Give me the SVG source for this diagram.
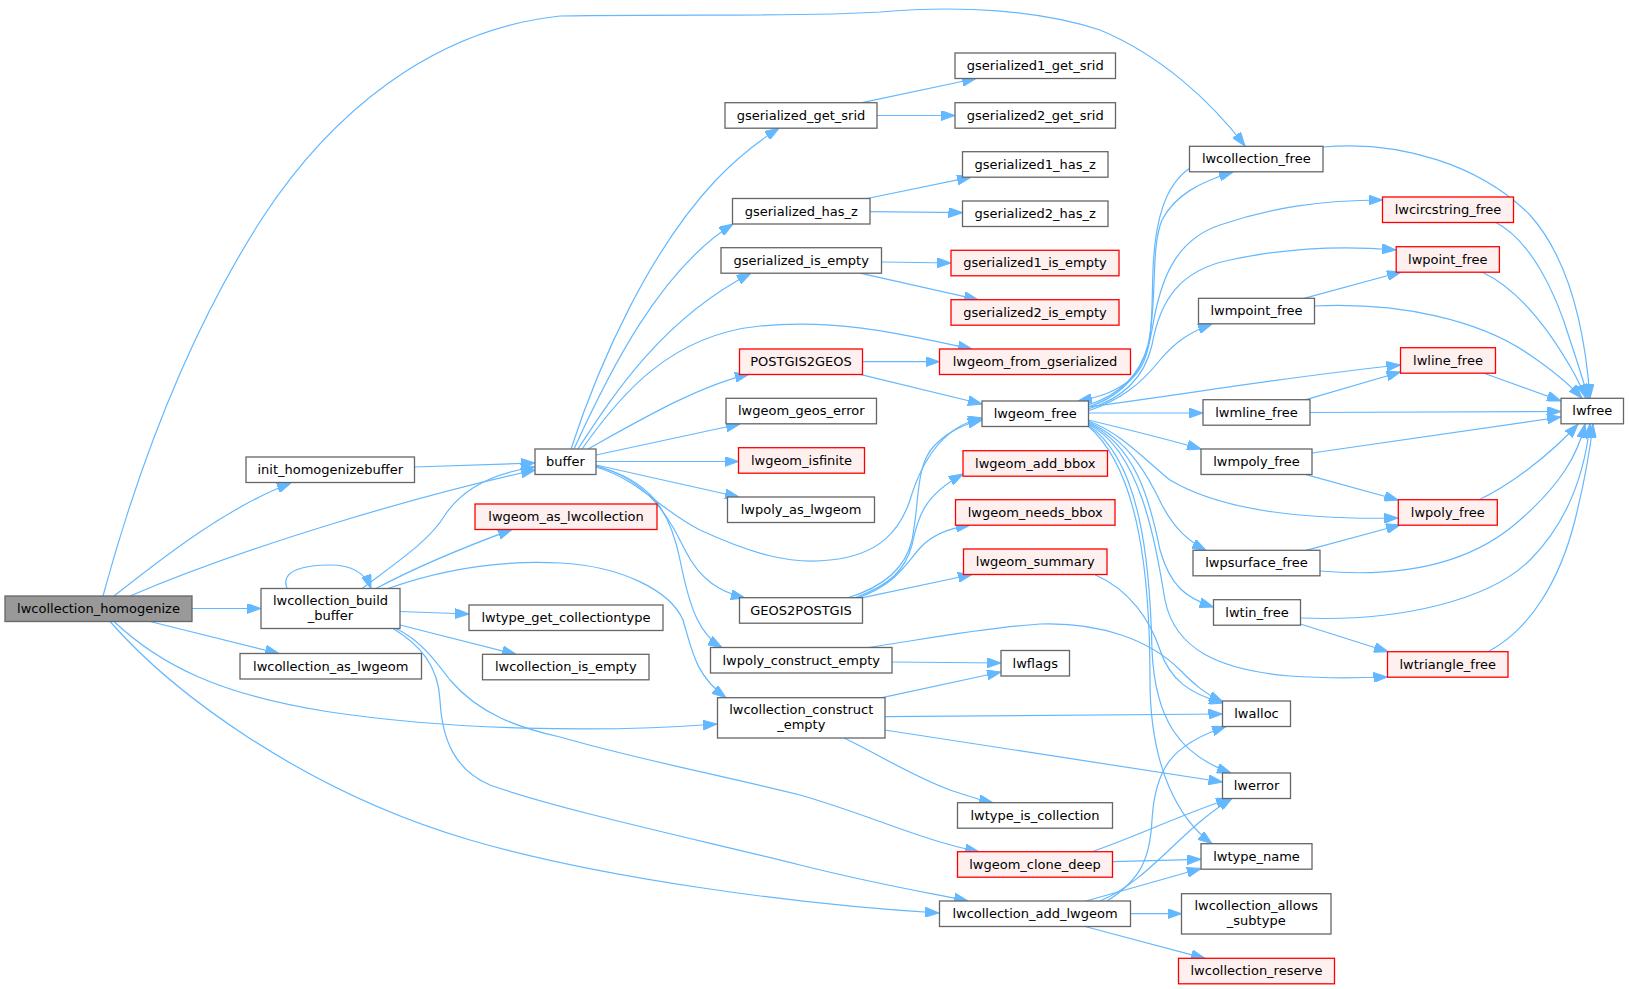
<svg xmlns="http://www.w3.org/2000/svg" width="1629" height="989" viewBox="0 0 1629 989">
<defs>
<marker id="a" viewBox="0 0 14 10" markerWidth="14" markerHeight="10" refX="14" refY="5" orient="auto" markerUnits="userSpaceOnUse"><path d="M0,0 L14,5 L0,10 Z" fill="#63b8ff" stroke="#63b8ff" stroke-width="1"/></marker>
<style>
.e path{fill:none;stroke:#63b8ff;stroke-width:1.2;marker-end:url(#a)}
rect{stroke-width:1.3}
.n rect{fill:#ffffff;stroke:#666666}
.r rect{fill:#fff0f0;stroke:#ff0000}
.g rect{fill:#999999;stroke:#666666}
text{font-family:"DejaVu Sans",sans-serif;font-size:13px;text-anchor:middle;fill:#000}
</style>
</defs>
<rect width="1629" height="989" fill="#fff"/>
<g class="e" id="edges">
<path d="M103,596 C140,460 190,330 263,217 C330,115 430,30 560,16 C700,14 800,17 880,12 C960,5 1040,10 1100,30 C1160,55 1210,100 1245,146"/>
<path d="M114,596 C160,560 225,508 291,483"/>
<path d="M130,596 C250,545 420,495 535,470"/>
<path d="M414.5,467 L535,463"/>
<path d="M192,608.5 L261,608.5"/>
<path d="M150,621.5 L279,653.5"/>
<path d="M114,621.5 C160,665 220,695 330,712 C450,730 600,733 717,724"/>
<path d="M110,621.5 C170,690 300,790 470,840 C600,878 800,905 939,913"/>
<path d="M287,588.5 C280,570 305,565 330,565 C350,565 365,572 371,588.5"/>
<path d="M362,588.5 C400,560 430,540 445,515 C465,485 500,472 535,467"/>
<path d="M376,588.5 C420,565 470,545 512,529.5"/>
<path d="M388,588.5 C440,570 500,560 560,563 C620,566 670,590 683,620 C692,650 695,675 726,697.7"/>
<path d="M400,611.5 L469,614"/>
<path d="M400,625 L516,654.3"/>
<path d="M396,628.5 C420,640 435,660 450,680 C480,715 520,728 560,737 C640,760 720,775 800,795 C870,815 920,840 979,851.7"/>
<path d="M393,628.5 C420,645 438,665 440,700 C442,740 455,770 490,785 C560,810 700,840 800,865 C880,885 930,893 968,901"/>
<path d="M571,449 C600,360 650,250 716,180 C740,155 760,140 779,128.2"/>
<path d="M574,449 C610,370 660,270 733,224"/>
<path d="M578,449 C610,400 660,320 751,273.2"/>
<path d="M582,449 C620,395 670,335 760,326 C840,318 910,336 972,349"/>
<path d="M588,449 C640,420 700,385 749,374.3"/>
<path d="M596,455 L740,424"/>
<path d="M596,461.5 L738.5,461.5"/>
<path d="M596,465 L739,497"/>
<path d="M596,467 C640,480 660,510 700,530 C750,553 790,565 830,560 C880,555 900,530 910,500 C925,450 950,425 982,418"/>
<path d="M596,466 C650,480 670,520 685,550 C700,580 720,592 745,598"/>
<path d="M596,466 C650,480 670,510 680,560 C690,610 700,635 722,647.5"/>
<path d="M862,102.7 L976,78.5"/>
<path d="M877,115.5 L955,115.5"/>
<path d="M867,198.5 L971,177.2"/>
<path d="M870,211.7 L962.5,212.7"/>
<path d="M881.5,262 L951,263"/>
<path d="M860,273.2 L978,299.7"/>
<path d="M862.5,361.7 L939.5,361.7"/>
<path d="M860,374.3 L982,404"/>
<path d="M848,597.7 C880,588 905,570 912,540 C920,500 915,465 935,445 C950,430 965,424 982,420"/>
<path d="M855,597.7 C890,585 905,570 912,545 C918,515 925,495 963,474"/>
<path d="M858,597.7 C895,585 905,565 920,548 C932,535 950,528 970,525.2"/>
<path d="M863,597.7 L972,574.5"/>
<path d="M1088,405 C1120,395 1140,375 1148,345 C1158,300 1150,250 1162,220 C1175,195 1200,182 1233,172"/>
<path d="M1190,168 C1165,185 1155,220 1153,270 C1151,320 1155,360 1130,380 C1115,392 1100,397 1078,401"/>
<path d="M1088,407 C1125,395 1145,370 1152,330 C1160,280 1175,240 1220,225 C1270,208 1320,200 1382.5,200"/>
<path d="M1088,409 C1125,398 1145,375 1152,345 C1160,300 1180,270 1230,260 C1290,247 1350,246 1396,250"/>
<path d="M1088,411 C1120,400 1140,385 1160,360 C1175,342 1190,332 1212,324"/>
<path d="M1088,407 C1200,392 1300,375 1400.5,365"/>
<path d="M1088,413 L1203,413"/>
<path d="M1088,420 C1130,430 1170,440 1201,449"/>
<path d="M1088,421 C1120,432 1145,460 1170,480 C1220,510 1300,520 1398,518"/>
<path d="M1088,422 C1130,440 1150,480 1162,505 C1175,530 1190,542 1206,550.3"/>
<path d="M1088,423 C1135,445 1150,500 1160,550 C1170,585 1185,598 1213.5,607"/>
<path d="M1088,424 C1140,450 1155,540 1165,600 C1175,650 1220,670 1290,676 C1330,679 1360,678 1387.5,677"/>
<path d="M1088,425 C1140,460 1150,560 1152,650 C1155,720 1180,755 1231,773"/>
<path d="M1088,426 C1140,470 1150,580 1150,680 C1150,770 1180,820 1212,843.7"/>
<path d="M1323,147 C1400,140 1480,165 1530,215 C1570,260 1585,330 1590,398.3"/>
<path d="M1495,222 C1530,240 1555,290 1570,340 C1580,370 1585,385 1588,398.3"/>
<path d="M1482,272 C1520,290 1550,330 1575,375 C1580,385 1584,392 1586,398.3"/>
<path d="M1314.5,306 C1400,302 1480,320 1530,355 C1555,372 1570,385 1582,398.3"/>
<path d="M1484,373.2 L1561,401"/>
<path d="M1310,412.5 L1561,411.5"/>
<path d="M1312,453 L1561,417"/>
<path d="M1479,499.7 C1510,485 1550,455 1578,424"/>
<path d="M1320,571 C1400,578 1470,565 1520,520 C1560,485 1578,455 1585,424"/>
<path d="M1300.5,618 C1400,622 1490,600 1530,560 C1570,520 1585,470 1590,424"/>
<path d="M1488,651.7 C1530,630 1560,580 1575,520 C1585,480 1590,450 1593,424"/>
<path d="M1304,298.3 L1401,272"/>
<path d="M1306,399.7 L1400.5,372"/>
<path d="M1306,474.7 L1398.3,500"/>
<path d="M1306,550.3 L1400,525"/>
<path d="M1300.5,624 L1388,651.7"/>
<path d="M892,662 L1001,663"/>
<path d="M868,647.5 C920,640 980,628 1040,624 C1100,622 1150,640 1180,670 C1195,685 1205,694 1223,702"/>
<path d="M1095,574.7 C1130,590 1150,620 1160,650 C1170,680 1190,694 1223,703"/>
<path d="M882,697.7 L1001,672"/>
<path d="M884.8,716.7 L1222.5,714"/>
<path d="M884.8,730 L1222.5,782"/>
<path d="M844,738 C880,755 910,775 950,790 C965,795 980,800 993,802.7"/>
<path d="M1092,851.7 C1140,835 1180,815 1230,798.5"/>
<path d="M1112.5,861.7 L1201,859.3"/>
<path d="M1107,901 C1140,880 1150,860 1152,820 C1155,770 1170,745 1226,726.5"/>
<path d="M1100,901 C1150,880 1180,830 1232,798.5"/>
<path d="M1086,901 L1201,868.5"/>
<path d="M1130.5,913.7 L1181.5,913.7"/>
<path d="M1085,926.5 L1205,958.3"/>
</g>
<g id="n_root" class="g"><rect x="5" y="596" width="187" height="25.5"/><text x="98.5" y="613">lwcollection_homogenize</text></g>
<g id="n_init" class="n"><rect x="246" y="457" width="168.5" height="25.5"/><text x="330.25" y="474">init_homogenizebuffer</text></g>
<g id="n_buffer" class="n"><rect x="535" y="449" width="61" height="25.5"/><text x="565.5" y="466">buffer</text></g>
<g id="n_build" class="n"><rect x="261" y="588.5" width="139" height="40"/><text x="330.5" y="605">lwcollection_build</text><text x="330.5" y="619.5">_buffer</text></g>
<g id="n_aslwcoll" class="r"><rect x="475" y="504" width="182" height="25.5"/><text x="566" y="521">lwgeom_as_lwcollection</text></g>
<g id="n_getcolltype" class="n"><rect x="469" y="605" width="194" height="25.5"/><text x="566" y="622">lwtype_get_collectiontype</text></g>
<g id="n_aslwgeom" class="n"><rect x="240" y="653.5" width="181.5" height="25.5"/><text x="330.75" y="670.5">lwcollection_as_lwgeom</text></g>
<g id="n_isempty" class="n"><rect x="482.5" y="654.3" width="166.5" height="25.5"/><text x="565.75" y="671.3">lwcollection_is_empty</text></g>
<g id="n_getsrid" class="n"><rect x="725" y="102.7" width="152" height="25.5"/><text x="801" y="119.7">gserialized_get_srid</text></g>
<g id="n_g1srid" class="n"><rect x="955" y="53" width="160.5" height="25.5"/><text x="1035.25" y="70">gserialized1_get_srid</text></g>
<g id="n_g2srid" class="n"><rect x="955" y="102.7" width="160.5" height="25.5"/><text x="1035.25" y="119.7">gserialized2_get_srid</text></g>
<g id="n_hasz" class="n"><rect x="732.5" y="198.5" width="137.5" height="25.5"/><text x="801.25" y="215.5">gserialized_has_z</text></g>
<g id="n_g1hasz" class="n"><rect x="962.5" y="151.7" width="145.5" height="25.5"/><text x="1035.25" y="168.7">gserialized1_has_z</text></g>
<g id="n_g2hasz" class="n"><rect x="962.5" y="201" width="145.5" height="25.5"/><text x="1035.25" y="218">gserialized2_has_z</text></g>
<g id="n_gisempty" class="n"><rect x="721" y="247.7" width="160.5" height="25.5"/><text x="801.25" y="264.7">gserialized_is_empty</text></g>
<g id="n_g1isempty" class="r"><rect x="951" y="250.3" width="168" height="25.5"/><text x="1035" y="267.3">gserialized1_is_empty</text></g>
<g id="n_g2isempty" class="r"><rect x="951" y="299.7" width="168" height="25.5"/><text x="1035" y="316.7">gserialized2_is_empty</text></g>
<g id="n_collfree" class="n"><rect x="1189.5" y="146.3" width="133.5" height="25.5"/><text x="1256.25" y="163.3">lwcollection_free</text></g>
<g id="n_circfree" class="r"><rect x="1382.5" y="197" width="131" height="25.5"/><text x="1448" y="214">lwcircstring_free</text></g>
<g id="n_pointfree" class="r"><rect x="1396.2" y="246.7" width="103.2" height="25.5"/><text x="1447.8" y="263.7">lwpoint_free</text></g>
<g id="n_mpointfree" class="n"><rect x="1198.5" y="298.3" width="116" height="25.5"/><text x="1256.5" y="315.3">lwmpoint_free</text></g>
<g id="n_p2g" class="r"><rect x="739.5" y="349" width="123" height="25.5"/><text x="801" y="366">POSTGIS2GEOS</text></g>
<g id="n_fromgser" class="r"><rect x="939.5" y="349" width="191" height="25.5"/><text x="1035" y="366">lwgeom_from_gserialized</text></g>
<g id="n_geoserr" class="n"><rect x="726" y="398.3" width="150.5" height="25.5"/><text x="801.25" y="415.3">lwgeom_geos_error</text></g>
<g id="n_geomfree" class="n"><rect x="982" y="401" width="106.5" height="25.5"/><text x="1035.25" y="418">lwgeom_free</text></g>
<g id="n_isfinite" class="r"><rect x="738.5" y="447.7" width="126" height="25.5"/><text x="801.5" y="464.7">lwgeom_isfinite</text></g>
<g id="n_polyaslwgeom" class="n"><rect x="727.5" y="497" width="147" height="25.5"/><text x="801" y="514">lwpoly_as_lwgeom</text></g>
<g id="n_addbbox" class="r"><rect x="963" y="450.7" width="144.5" height="25.5"/><text x="1035.25" y="467.7">lwgeom_add_bbox</text></g>
<g id="n_needsbbox" class="r"><rect x="955.5" y="499.7" width="159.5" height="25.5"/><text x="1035.25" y="516.7">lwgeom_needs_bbox</text></g>
<g id="n_summary" class="r"><rect x="963.5" y="549" width="143.5" height="25.5"/><text x="1035.25" y="566">lwgeom_summary</text></g>
<g id="n_g2p" class="n"><rect x="739.5" y="597.7" width="123" height="25.5"/><text x="801" y="614.7">GEOS2POSTGIS</text></g>
<g id="n_polyconst" class="n"><rect x="710.5" y="647.5" width="181.5" height="25.5"/><text x="801.25" y="664.5">lwpoly_construct_empty</text></g>
<g id="n_lwflags" class="n"><rect x="1001" y="650.5" width="68.5" height="25.5"/><text x="1035.25" y="667.5">lwflags</text></g>
<g id="n_linefree" class="r"><rect x="1400.5" y="347.7" width="95" height="25.5"/><text x="1448" y="364.7">lwline_free</text></g>
<g id="n_lwfree" class="n"><rect x="1561" y="398.3" width="62.5" height="25.5"/><text x="1592.25" y="415.3">lwfree</text></g>
<g id="n_mlinefree" class="n"><rect x="1203" y="399.7" width="107" height="25.5"/><text x="1256.5" y="416.7">lwmline_free</text></g>
<g id="n_mpolyfree" class="n"><rect x="1201" y="449" width="111" height="25.5"/><text x="1256.5" y="466">lwmpoly_free</text></g>
<g id="n_polyfree" class="r"><rect x="1398.3" y="499.7" width="99" height="25.5"/><text x="1447.8" y="516.7">lwpoly_free</text></g>
<g id="n_psurffree" class="n"><rect x="1193" y="550.3" width="127" height="25.5"/><text x="1256.5" y="567.3">lwpsurface_free</text></g>
<g id="n_tinfree" class="n"><rect x="1213.5" y="599.7" width="87" height="25.5"/><text x="1257" y="616.7">lwtin_free</text></g>
<g id="n_trifree" class="r"><rect x="1387.5" y="651.7" width="120.5" height="25.5"/><text x="1447.75" y="668.7">lwtriangle_free</text></g>
<g id="n_collconst" class="n"><rect x="717.5" y="697.7" width="167.5" height="40.3"/><text x="801.25" y="714.3">lwcollection_construct</text><text x="801.25" y="728.7">_empty</text></g>
<g id="n_iscoll" class="n"><rect x="957.5" y="802.7" width="155" height="25.5"/><text x="1035" y="819.7">lwtype_is_collection</text></g>
<g id="n_clonedeep" class="r"><rect x="957.5" y="851.7" width="155" height="25.5"/><text x="1035" y="868.7">lwgeom_clone_deep</text></g>
<g id="n_addlwgeom" class="n"><rect x="939.5" y="901" width="191" height="25.5"/><text x="1035" y="918">lwcollection_add_lwgeom</text></g>
<g id="n_lwalloc" class="n"><rect x="1222.5" y="701" width="68" height="25.5"/><text x="1256.5" y="718">lwalloc</text></g>
<g id="n_lwerror" class="n"><rect x="1222.5" y="773" width="68" height="25.5"/><text x="1256.5" y="790">lwerror</text></g>
<g id="n_typename" class="n"><rect x="1201" y="843.7" width="111" height="25.5"/><text x="1256.5" y="860.7">lwtype_name</text></g>
<g id="n_allows" class="n"><rect x="1181.5" y="893.7" width="149.5" height="40.3"/><text x="1256.25" y="910.3">lwcollection_allows</text><text x="1256.25" y="924.7">_subtype</text></g>
<g id="n_reserve" class="r"><rect x="1178.5" y="958.3" width="156" height="25.5"/><text x="1256.5" y="975.3">lwcollection_reserve</text></g>
</svg>
